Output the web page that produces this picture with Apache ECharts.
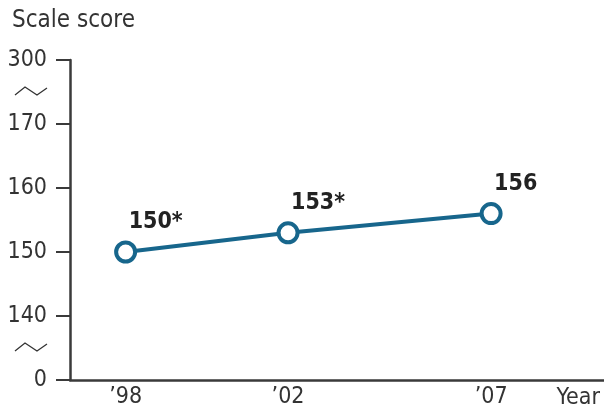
<!DOCTYPE html>
<html>
<head>
<meta charset="utf-8">
<script src="https://cdn.jsdelivr.net/npm/echarts@6/dist/echarts.min.js"></script>
<style>html,body{margin:0;padding:0;background:#fff}#c{width:604px;height:412px}</style>
</head>
<body>
<div id="c"></div>
<script>
// Data
var years = [1998, 2002, 2007];
var yearLabels = ["\u201998", "\u201902", "\u201907"];
var scores = [150, 153, 156];
var scoreLabels = ['150*', '153*', '156'];
// Broken y axis: positions 130 and 180 stand for 0 and 300
var yTickValues = [130, 140, 150, 160, 170, 180];
var yTickLabels = ['0', '140', '150', '160', '170', '300'];
var breakValues = [135, 175];

var FONT = '"Liberation Sans Narrow","DejaVu Sans Condensed","Roboto",sans-serif';
var AXIS = '#3a3a3a';
var LINE = '#17668c';

var chart = echarts.init(document.getElementById('c'), null, {renderer: 'canvas'});
var option = {
  backgroundColor: '#fff',
  animation: false,
  grid: {left: 70, right: 0, top: 60, bottom: 32},
  xAxis: {
    type: 'value',
    min: 1996.63,
    max: 2009.78,
    splitLine: {show: false},
    axisLine: {show: true, lineStyle: {color: AXIS, width: 2.5}},
    axisTick: {show: false},
    axisLabel: {
      customValues: years,
      margin: 6,
      color: '#333',
      fontSize: 23,
      fontFamily: FONT,
      formatter: function (v) { var i = years.indexOf(Math.round(v)); return i >= 0 ? yearLabels[i] : ''; }
    }
  },
  yAxis: {
    type: 'value',
    min: 130,
    max: 180,
    interval: 10,
    splitLine: {show: false},
    axisLine: {show: true, onZero: false, lineStyle: {color: AXIS, width: 2.5}},
    axisTick: {show: true, inside: false, length: 14, lineStyle: {color: AXIS, width: 2}},
    axisLabel: {
      margin: 23,
      color: '#333',
      fontSize: 23,
      fontFamily: FONT,
      formatter: function (v) { var i = yTickValues.indexOf(v); return i >= 0 ? yTickLabels[i] : ''; }
    }
  },
  series: [{
    type: 'line',
    data: years.map(function (y, i) { return [y, scores[i]]; }),
    symbol: 'circle',
    symbolSize: 19,
    lineStyle: {color: LINE, width: 4},
    itemStyle: {color: '#fff', borderColor: LINE, borderWidth: 4},
    z: 5,
    label: {
      show: true,
      position: 'top',
      align: 'left',
      verticalAlign: 'bottom',
      distance: 10,
      offset: [3, 3],
      color: '#222',
      fontSize: 23,
      fontWeight: 'bold',
      fontFamily: FONT,
      formatter: function (p) { return scoreLabels[p.dataIndex]; }
    }
  }],
  graphic: [
    {type: 'text', left: 12, top: 9, style: {text: 'Scale score', fill: '#333', font: '24px ' + FONT}},
    {type: 'text', right: 4, top: 387, style: {text: 'Year', fill: '#333', font: '23px ' + FONT}}
  ]
};
chart.setOption(option);

var gfx = option.graphic.slice();
breakValues.forEach(function (v) {
  var y = chart.convertToPixel({gridIndex: 0}, [1998, v])[1];
  gfx.push({
    type: 'polyline',
    shape: {points: [[15, y + 3], [25, y - 5], [37, y + 3], [47, y - 4]]},
    style: {stroke: '#333', lineWidth: 1.3, fill: null}
  });
});
chart.setOption({graphic: gfx});
</script>
</body>
</html>
